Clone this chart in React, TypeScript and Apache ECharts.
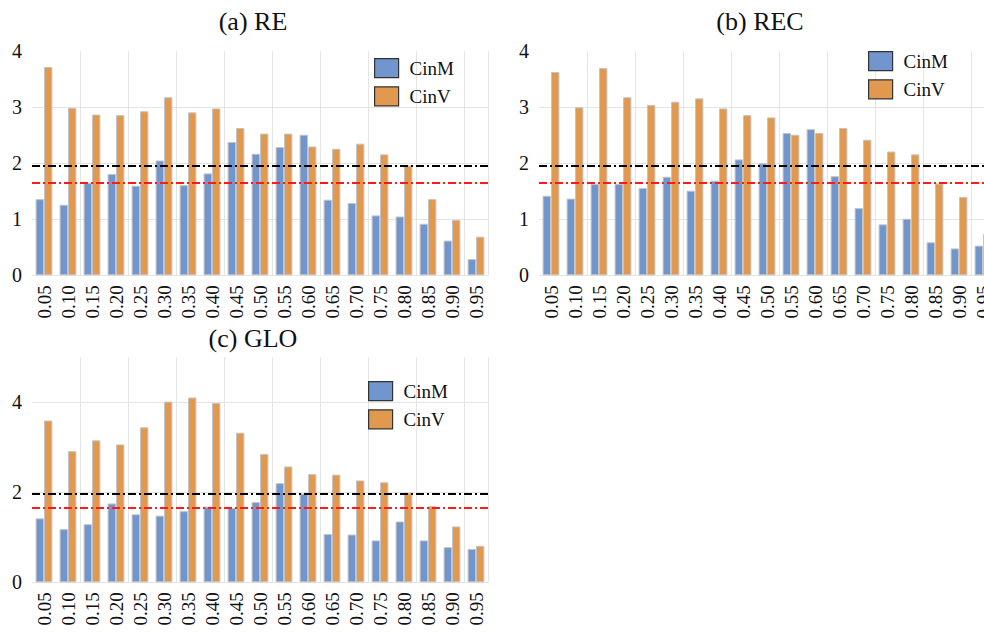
import React, { useEffect, useRef } from "react";
import * as echarts from "echarts";

const categories = ["0.05","0.10","0.15","0.20","0.25","0.30","0.35","0.40","0.45","0.50","0.55","0.60","0.65","0.70","0.75","0.80","0.85","0.90","0.95"];

const reCinM = [1.36,1.26,1.65,1.81,1.60,2.05,1.61,1.82,2.38,2.17,2.29,2.51,1.35,1.29,1.07,1.05,0.92,0.62,0.29];
const reCinV = [3.72,2.99,2.87,2.86,2.93,3.18,2.91,2.98,2.63,2.53,2.53,2.30,2.26,2.35,2.16,1.96,1.36,0.99,0.69];

const recCinM = [1.42,1.37,1.63,1.63,1.56,1.76,1.51,1.69,2.07,2.00,2.54,2.61,1.77,1.20,0.91,1.01,0.59,0.48,0.53];
const recCinV = [3.63,3.00,3.70,3.18,3.04,3.10,3.16,2.98,2.86,2.82,2.51,2.54,2.63,2.42,2.21,2.16,1.64,1.40,0.74];

const gloCinM = [1.42,1.18,1.29,1.75,1.51,1.48,1.58,1.68,1.65,1.78,2.20,1.97,1.07,1.06,0.93,1.35,0.93,0.78,0.74];
const gloCinV = [3.59,2.91,3.15,3.06,3.44,4.01,4.10,3.98,3.32,2.85,2.57,2.40,2.39,2.26,2.22,1.99,1.69,1.24,0.81];

const panelTitles = ["(a) RE", "(b) REC", "(c) GLO"];
const seriesNames = ["CinM", "CinV"];
const refLineBlack = 1.96;
const refLineRed = 1.645;

const BLUE = "#7195CD";
const ORANGE = "#E0994E";
const FONT = "Liberation Serif";

export default function App() {
  const ref = useRef<HTMLDivElement>(null);
  useEffect(() => {
    if (!ref.current) return;
    const chart = echarts.init(ref.current, undefined, { renderer: "svg" });
    const grids = [
      { left: 32, top: 51.3, width: 456, height: 224 },
      { left: 539, top: 51.3, width: 456, height: 224 },
      { left: 32, top: 357, width: 456, height: 225.3 },
    ];
    const data = [
      [reCinM, reCinV],
      [recCinM, recCinV],
      [gloCinM, gloCinV],
    ];
    const titlePos = [
      { left: 253, top: 8 },
      { left: 760, top: 8 },
      { left: 253, top: 325 },
    ];
    const legendPos = [
      { left: 374, top: 58 },
      { left: 868, top: 51 },
      { left: 368, top: 381 },
    ];
    const xAxis = grids.map((_, i) => ({
      type: "category",
      gridIndex: i,
      data: categories,
      axisLine: { show: false },
      axisTick: { show: false },
      axisLabel: { rotate: 90, margin: 10, fontFamily: FONT, fontSize: 19, color: "#111", interval: 0 },
      splitLine: { show: true, interval: 1, showMinLine: false, lineStyle: { color: "#e4e4e4", width: 1 } },
    }));
    const yAxis = grids.map((_, i) => ({
      type: "value",
      gridIndex: i,
      min: 0,
      max: i === 2 ? 5 : 4,
      interval: i === 2 ? 2 : 1,
      axisLine: { show: false },
      axisTick: { show: false },
      axisLabel: {
        margin: 10,
        fontFamily: FONT,
        fontSize: 20,
        color: "#111",
        showMaxLabel: i !== 2,
        padding: [0, 0, 6, 0],
      },
      splitLine: { show: true, showMaxLine: false, lineStyle: { color: "#e4e4e4", width: 1 } },
    }));
    const series: any[] = [];
    data.forEach((pair, i) => {
      pair.forEach((vals, j) => {
        const s: any = {
          type: "bar",
          name: seriesNames[j],
          xAxisIndex: i,
          yAxisIndex: i,
          data: vals,
          barGap: "0%",
          barCategoryGap: "30%",
          itemStyle: { color: j === 0 ? BLUE : ORANGE, borderColor: "#c4c4c4", borderWidth: 1 },
        };
        if (j === 1) {
          s.markLine = {
            silent: true,
            symbol: ["none", "none"],
            label: { show: false },
            data: [
              { yAxis: refLineBlack, lineStyle: { color: "#000", width: 2, type: [8, 3, 2, 3] } },
              { yAxis: refLineRed, lineStyle: { color: "#ff1a1a", width: 2, type: [8, 3, 2, 3] } },
            ],
          };
        }
        series.push(s);
      });
    });
    chart.setOption({
      animation: false,
      backgroundColor: "#fff",
      title: panelTitles.map((t, i) => ({
        text: t,
        left: titlePos[i].left,
        top: titlePos[i].top,
        textAlign: "center",
        padding: 0,
        textStyle: { fontFamily: FONT, fontSize: 26, fontWeight: "normal", color: "#111" },
      })),
      legend: legendPos.map((p) => ({
        data: seriesNames,
        orient: "vertical",
        left: p.left,
        top: p.top,
        padding: 0,
        itemWidth: 24,
        itemHeight: 19,
        itemGap: 8,
        icon: "rect",
        selectedMode: false,
        itemStyle: { borderColor: "#333", borderWidth: 1.2 },
        textStyle: { fontFamily: FONT, fontSize: 19, color: "#111", padding: [0, 0, 0, 6] },
      })),
      grid: grids,
      xAxis,
      yAxis,
      series,
    });
    return () => chart.dispose();
  }, []);
  return (
    <div style={{ position: "fixed", left: 0, top: 0, width: 984, height: 632, overflow: "hidden", background: "#fff" }}>
      <div ref={ref} style={{ width: 1000, height: 632 }} />
    </div>
  );
}
